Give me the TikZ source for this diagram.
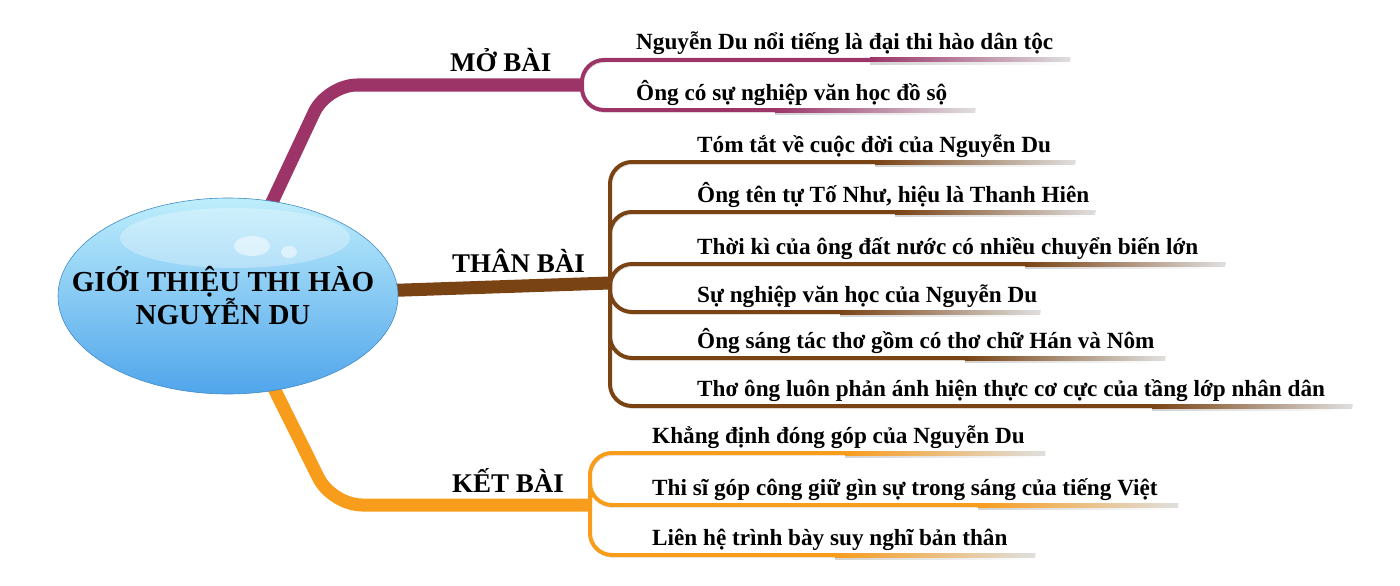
\documentclass[tikz,border=0pt]{standalone}
\usepackage{fontspec}
\setmainfont{Liberation Serif}
\usetikzlibrary{calc,backgrounds,shapes.geometric}
\definecolor{mobai}{RGB}{156,52,104}
\definecolor{thanbai}{RGB}{122,67,20}
\definecolor{ketbai}{RGB}{248,156,28}
\definecolor{bubbletop}{RGB}{190,238,252}
\definecolor{bubblebot}{RGB}{80,165,235}
\tikzset{
  bubble/.style={ellipse, minimum width=340pt, minimum height=196pt, inner sep=0pt,
    top color=bubbletop, bottom color=bubblebot, draw=bubblebot!85!black, line width=0.6pt},
  title/.style={align=center, inner sep=0pt, font=\bfseries\fontsize{29}{33}\selectfont},
  part/.style={anchor=base west, inner sep=0pt, font=\bfseries\fontsize{27}{30}\selectfont},
  leaf/.style={anchor=base west, inner sep=0pt, font=\bfseries\fontsize{23.2}{26}\selectfont},
  trunk/.style={line width=13pt, draw=#1, rounded corners=30pt,
    preaction={draw=gray!45, transform canvas={xshift=1.5pt,yshift=-3pt}}},
  twig/.style={line width=4pt, draw=#1, rounded corners=22pt,
    preaction={draw=gray!35, transform canvas={xshift=1pt,yshift=-2.5pt}}},
}
% fading end of a twig: colour, end coordinate
\newcommand{\twigtail}[2]{%
  \shade[left color=gray!35, right color=white] ($(#2)+(-200,1)$) rectangle ($(#2)+(1,4.5)$);
  \shade[left color=#1, right color=gray!25] ($(#2)+(-200,-2)$) rectangle ($(#2)+(0,2)$);
}
\begin{document}
\begin{tikzpicture}[x=1pt, y=-1pt]
  \useasboundingbox (0,0) rectangle (1400,586);

  % the bubble
  \node[bubble] (root) at (228,296) {};
  \fill[white, opacity=0.3] (235,238) ellipse (115pt and 30pt);
  \fill[white, opacity=0.5] (252,246) ellipse (18pt and 10pt);
  \fill[white, opacity=0.5] (289,252) ellipse (8pt and 6pt);
  \node[title] (title) at (223,296) {GIỚI THIỆU THI HÀO\\NGUYỄN DU};

  % branch points
  \coordinate (mbknee) at (327,85);
  \coordinate (mb) at (582,85);
  \coordinate (tb) at (610,283);
  \coordinate (kbknee) at (332,505);
  \coordinate (kb) at (590,505);

  \begin{scope}[on background layer]
    \draw[trunk=mobai] (root.center) -- (mbknee) -- (mb);
    \draw[trunk=thanbai] (root.center) -- (tb);
    \draw[trunk=ketbai] (root.center) -- (kbknee) -- (kb);
  \end{scope}

  \node[part] (mo) at (450,72) {MỞ BÀI};
  \node[part] (than) at (452,272) {THÂN BÀI};
  \node[part] (ket) at (452,492) {KẾT BÀI};

  % leaves of MO BAI
  \foreach \n/\y/\e/\t in {m1/60/1070/{Nguyễn Du nổi tiếng là đại thi hào dân tộc},
                           m2/110/975/{Ông có sự nghiệp văn học đồ sộ}}{
    \coordinate (\n-end) at (\e,\y);
    \draw[twig=mobai] (mb) |- (\n-end);
    \twigtail{mobai}{\n-end}
    \node[leaf] (\n) at (636,\y-10) {\t};
  }

  % leaves of THAN BAI
  \foreach \n/\y/\e/\t in {t1/162/1075/{Tóm tắt về cuộc đời của Nguyễn Du},
                           t2/212/1095/{Ông tên tự Tố Như, hiệu là Thanh Hiên},
                           t3/264/1225/{Thời kì của ông đất nước có nhiều chuyển biến lớn},
                           t4/312/1040/{Sự nghiệp văn học của Nguyễn Du},
                           t5/358/1165/{Ông sáng tác thơ gồm có thơ chữ Hán và Nôm},
                           t6/406/1352/{Thơ ông luôn phản ánh hiện thực cơ cực của tầng lớp nhân dân}}{
    \coordinate (\n-end) at (\e,\y);
    \draw[twig=thanbai] (tb) |- (\n-end);
    \twigtail{thanbai}{\n-end}
    \node[leaf] (\n) at (697,\y-10) {\t};
  }

  % leaves of KET BAI
  \foreach \n/\y/\e/\t in {k1/453/1045/{Khẳng định đóng góp của Nguyễn Du},
                           k2/505/1178/{Thi sĩ góp công giữ gìn sự trong sáng của tiếng Việt},
                           k3/555/1035/{Liên hệ trình bày suy nghĩ bản thân}}{
    \coordinate (\n-end) at (\e,\y);
    \draw[twig=ketbai] (kb) |- (\n-end);
    \twigtail{ketbai}{\n-end}
    \node[leaf] (\n) at (652,\y-10) {\t};
  }
\end{tikzpicture}
\end{document}
